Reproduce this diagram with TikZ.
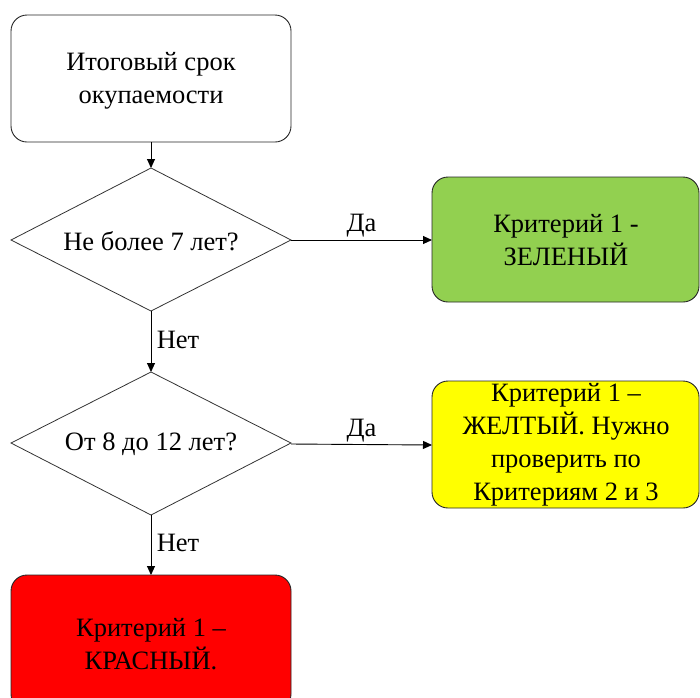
\documentclass[tikz,border=0pt]{standalone}
\usepackage{fontspec}
\setmainfont{Liberation Serif}
\usetikzlibrary{arrows.meta,shapes.geometric}
\definecolor{grn}{HTML}{92D050}
\definecolor{ylw}{HTML}{FFFF00}
\definecolor{rd}{HTML}{FF0000}
\begin{document}
\begin{tikzpicture}[x=1pt,y=-1pt,
  txt/.style={font=\fontsize{26.5}{33}\selectfont, align=center},
  rbox/.style={draw=black!85, line width=0.9pt, rounded corners=16pt},
  dia/.style={draw=black!80, line width=0.8pt},
  conn/.style={draw=black, line width=0.9pt, -{Triangle[length=9pt,width=8pt]}},
  lbl/.style={font=\fontsize{26.5}{30}\selectfont}]
\useasboundingbox (0,0) rectangle (700,697);
% start box
\draw[rbox, fill=white] (11,15) rectangle (291,142);
\node[txt] (start) at (151,81) {Итоговый срок\\окупаемости};
\coordinate (startB) at (151,142);
% diamond 1
\draw[dia] (11,240) -- (151,168) -- (291,240) -- (151,311) -- cycle;
\node[txt] (d1) at (151,241) {Не более 7 лет?};
\coordinate (d1T) at (151,168);
\coordinate (d1R) at (291,240);
\coordinate (d1B) at (151,311);
% green
\draw[rbox, fill=grn] (432,177) rectangle (699,302);
\node[txt] (green) at (566,240) {Критерий 1 -\\ЗЕЛЕНЫЙ};
\coordinate (greenL) at (432,240);
% diamond 2
\draw[dia] (11,443) -- (151,372) -- (291,443) -- (151,515) -- cycle;
\node[txt] (d2) at (151,444) {От 8 до 12 лет?};
\coordinate (d2T) at (151,372);
\coordinate (d2R) at (291,444);
\coordinate (d2B) at (151,515);
% yellow
\draw[rbox, fill=ylw] (432,381) rectangle (699,508);
\node[txt] (yellow) at (566,445) {Критерий 1 –\\ЖЕЛТЫЙ. Нужно\\проверить по\\Критериям 2 и 3};
\coordinate (yellowL) at (432,445);
% red
\draw[rbox, fill=rd] (11,575) rectangle (291,710);
\node[txt] (red) at (151,644) {Критерий 1 –\\КРАСНЫЙ.};
\coordinate (redT) at (151,575);
% connectors
\draw[conn] (startB) -- (d1T);
\draw[conn] (d1R) -- node[lbl, above=-1pt, pos=0.5] (l1) {Да} (greenL);
\draw[conn] (d1B) -- node[lbl, right=2pt, pos=0.47] (l2) {Нет} (d2T);
\draw[conn] (d2R) -- node[lbl, above=-1pt, pos=0.5] (l3) {Да} (yellowL);
\draw[conn] (d2B) -- node[lbl, right=2pt, pos=0.47] (l4) {Нет} (redT);
\end{tikzpicture}
\end{document}
